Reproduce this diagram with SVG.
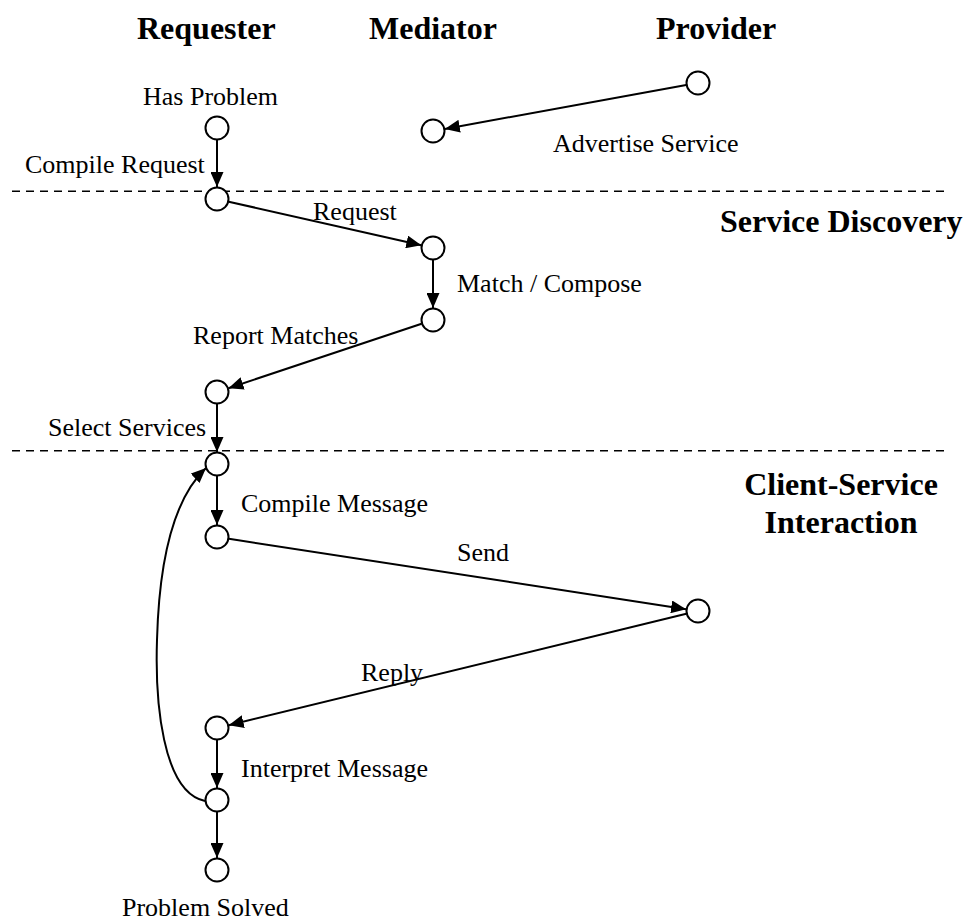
<svg xmlns="http://www.w3.org/2000/svg" width="964" height="921" viewBox="0 0 964 921">
<style>
.node{fill:#fff;stroke:#000;stroke-width:2}
.edge{fill:none;stroke:#000;stroke-width:2;marker-end:url(#arr)}
.sep{stroke:#000;stroke-width:1.6;stroke-dasharray:8 6;fill:none}
.lbl{font-family:"Liberation Serif","Times New Roman",serif;font-size:26px;fill:#000}
.hdr{font-family:"Liberation Serif","Times New Roman",serif;font-size:32px;font-weight:bold;fill:#000}
</style>
<defs>
<marker id="arr" markerUnits="userSpaceOnUse" markerWidth="15" markerHeight="13" refX="15" refY="6.5" orient="auto">
<path d="M0,0 L15,6.5 L0,13 z" fill="#000"/>
</marker>
</defs>
<rect width="964" height="921" fill="#fff"/>
<g id="headers">
<text class="hdr" x="137" y="39">Requester</text>
<text class="hdr" x="369" y="39">Mediator</text>
<text class="hdr" x="656" y="39">Provider</text>
<text class="hdr" x="720" y="232">Service Discovery</text>
<text class="hdr" x="841" y="495" text-anchor="middle">Client-Service</text>
<text class="hdr" x="841" y="533" text-anchor="middle">Interaction</text>
</g>
<g id="separators">
<line class="sep" x1="12" y1="191.3" x2="946" y2="191.3"/>
<line class="sep" x1="12" y1="450.7" x2="946" y2="450.7"/>
</g>
<g id="connectors">
<line class="edge" x1="686.2" y1="85.1" x2="444.8" y2="128.9"/>
<line class="edge" x1="217" y1="140" x2="217" y2="187"/>
<line class="edge" x1="228.7" y1="201.7" x2="421.3" y2="245.3"/>
<line class="edge" x1="433" y1="260" x2="433" y2="308"/>
<line class="edge" x1="421.6" y1="323.8" x2="228.4" y2="388.2"/>
<line class="edge" x1="217" y1="404" x2="217" y2="452"/>
<line class="edge" x1="217" y1="476" x2="217" y2="525"/>
<line class="edge" x1="228.9" y1="538.8" x2="686.1" y2="609.2"/>
<line class="edge" x1="686.3" y1="613.8" x2="228.7" y2="725.2"/>
<line class="edge" x1="217" y1="740" x2="217" y2="788"/>
<line class="edge" x1="217" y1="812" x2="217" y2="858"/>
<path class="edge" d="M205,801 C162,792 155,700 157,640 C159,565 172,500 206,468"/>
</g>
<g id="labels">
<text class="lbl" x="553" y="152">Advertise Service</text>
<text class="lbl" x="313" y="220">Request</text>
<text class="lbl" x="457" y="292">Match / Compose</text>
<text class="lbl" x="193" y="344">Report Matches</text>
<text class="lbl" x="457" y="561">Send</text>
<text class="lbl" x="361" y="681">Reply</text>
</g>
<g id="n-has-problem"><circle class="node" cx="217" cy="128" r="11.5"/><text class="lbl" x="143" y="105">Has Problem</text></g>
<g id="n-compile-request"><circle class="node" cx="217" cy="199" r="11.5"/><text class="lbl" x="25" y="173">Compile Request</text></g>
<g id="n-match"><circle class="node" cx="433" cy="248" r="11.5"/></g>
<g id="n-report"><circle class="node" cx="433" cy="320" r="11.5"/></g>
<g id="n-select"><circle class="node" cx="217" cy="392" r="11.5"/><text class="lbl" x="48" y="436">Select Services</text></g>
<g id="n-compile-message"><circle class="node" cx="217" cy="464" r="11.5"/><text class="lbl" x="241" y="512">Compile Message</text></g>
<g id="n-send"><circle class="node" cx="217" cy="537" r="11.5"/></g>
<g id="n-provider-service"><circle class="node" cx="698" cy="611" r="11.5"/></g>
<g id="n-interpret"><circle class="node" cx="217" cy="728" r="11.5"/><text class="lbl" x="241" y="777">Interpret Message</text></g>
<g id="n-check"><circle class="node" cx="217" cy="800" r="11.5"/></g>
<g id="n-solved"><circle class="node" cx="217" cy="870" r="11.5"/><text class="lbl" x="122" y="916">Problem Solved</text></g>
<g id="n-mediator"><circle class="node" cx="433" cy="131" r="11.5"/></g>
<g id="n-provider"><circle class="node" cx="698" cy="83" r="11.5"/></g>
</svg>
